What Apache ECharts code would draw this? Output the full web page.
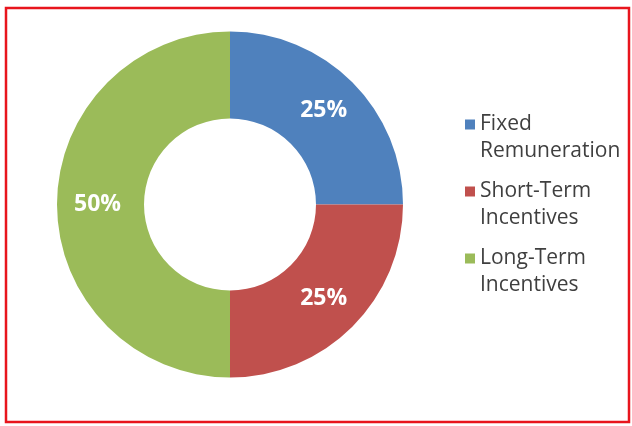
<!DOCTYPE html>
<html>
<head>
<meta charset="utf-8">
<script src="https://cdn.jsdelivr.net/npm/echarts@6/dist/echarts.min.js"></script>
<style>
  html, body { margin: 0; padding: 0; background: #ffffff; }
  #chart { width: 632px; height: 426px; }
</style>
</head>
<body>
<div id="chart"></div>
<script>
// Pay mix shares (percent of total remuneration)
const categories = ['Fixed\nRemuneration', 'Short-Term\nIncentives', 'Long-Term\nIncentives'];
const shares = [25, 25, 50];
const colors = ['#4f81bd', '#c0504d', '#9bbb59'];

const LINE_H = 27;

const chart = echarts.init(document.getElementById('chart'), null, { renderer: 'canvas' });

chart.setOption({
  backgroundColor: '#ffffff',
  animation: false,
  color: colors,
  graphic: [{
    type: 'rect',
    shape: { x: 6, y: 8, width: 623, height: 414 },
    style: { fill: 'none', stroke: '#e8151d', lineWidth: 2.5 },
    z: 10
  }],
  legend: {
    orient: 'vertical',
    left: 465,
    top: 84,
    padding: 0,
    itemWidth: 10,
    itemHeight: 10,
    itemGap: -14,
    icon: 'rect',
    selectedMode: false,
    // a blank leading line keeps the swatch level with the first text line
    formatter: name => '\n' + name,
    textStyle: {
      fontFamily: 'Open Sans',
      fontSize: 21,
      color: '#3f3f3f',
      lineHeight: LINE_H
    },
    data: categories
  },
  series: [{
    type: 'pie',
    center: [230, 204.5],
    radius: [86, 173],
    startAngle: 90,
    clockwise: true,
    avoidLabelOverlap: false,
    itemStyle: { borderWidth: 0 },
    label: {
      show: true,
      position: 'inside',
      formatter: '{c}%',
      color: '#ffffff',
      fontFamily: 'Open Sans',
      fontWeight: 'bold',
      fontSize: 23
    },
    labelLine: { show: false },
    emphasis: { disabled: true },
    data: categories.map((name, i) => ({ name: name, value: shares[i] }))
  }]
});
</script>
</body>
</html>
